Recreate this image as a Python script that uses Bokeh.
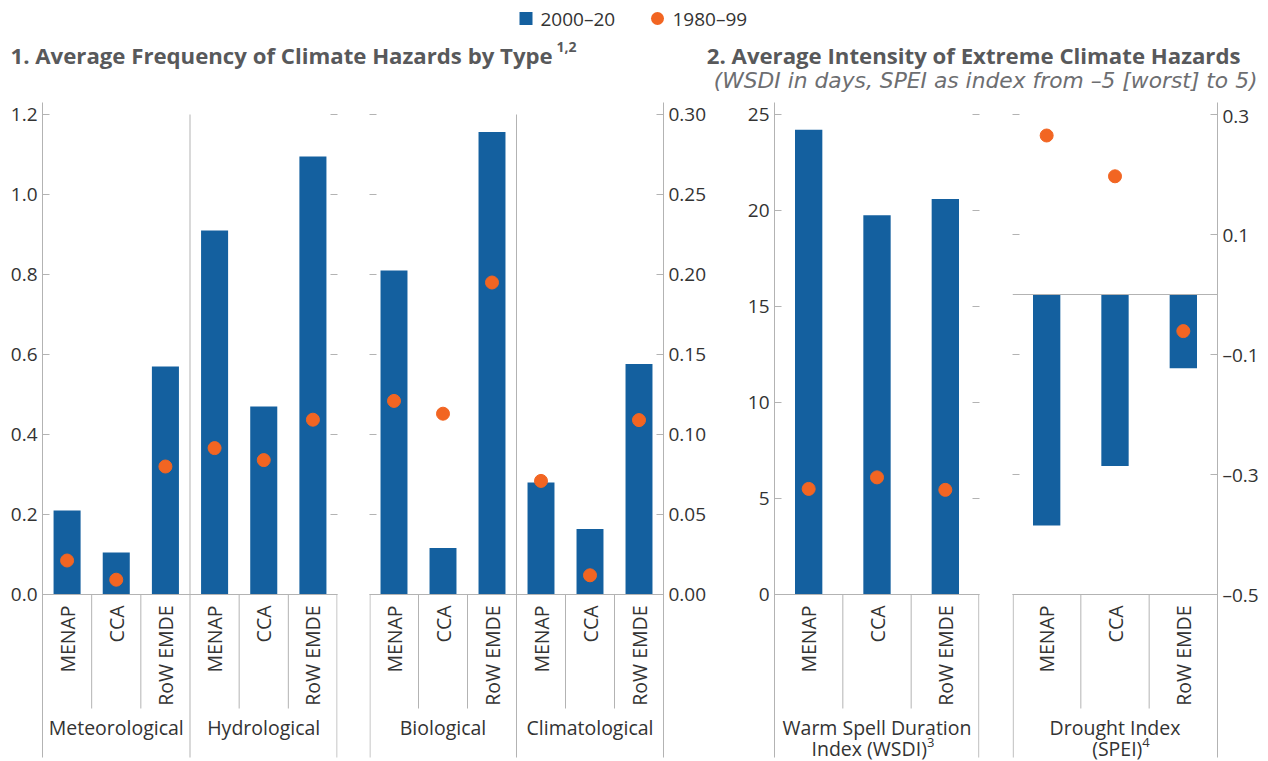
import math

from bokeh.core.properties import value
from bokeh.embed import file_html
from bokeh.layouts import column, row
from bokeh.models import FactorRange, FixedTicker, LinearAxis, Range1d, Span
from bokeh.plotting import figure
from bokeh.resources import INLINE

# ---------------- data ----------------
regions = ["MENAP", "CCA", "RoW EMDE"]
series_labels = ["2000–20", "1980–99"]

# 1. average frequency of climate hazards (left scale)
freq_groups_a = ["Meteorological", "Hydrological"]
freq_a_2000_20 = [0.21, 0.105, 0.57, 0.91, 0.47, 1.095]
freq_a_1980_99 = [0.085, 0.037, 0.32, 0.366, 0.336, 0.437]
freq_a_ticks = [0.0, 0.2, 0.4, 0.6, 0.8, 1.0, 1.2]
freq_a_tick_labels = ["0.0", "0.2", "0.4", "0.6", "0.8", "1.0", "1.2"]

# 1. average frequency of climate hazards (right scale)
freq_groups_b = ["Biological", "Climatological"]
freq_b_2000_20 = [0.2025, 0.029, 0.289, 0.070, 0.041, 0.144]
freq_b_1980_99 = [0.121, 0.113, 0.195, 0.071, 0.012, 0.109]
freq_b_ticks = [0.0, 0.05, 0.10, 0.15, 0.20, 0.25, 0.30]
freq_b_tick_labels = ["0.00", "0.05", "0.10", "0.15", "0.20", "0.25", "0.30"]

# 2. warm spell duration index (days)
wsdi_group = "WSDI"
wsdi_label_lines = ["Warm Spell Duration", "Index (WSDI)"]
wsdi_note = "3"
wsdi_2000_20 = [24.2, 19.75, 20.6]
wsdi_1980_99 = [5.5, 6.1, 5.45]
wsdi_ticks = [0, 5, 10, 15, 20, 25]
wsdi_tick_labels = ["0", "5", "10", "15", "20", "25"]

# 2. drought index (SPEI)
spei_group = "SPEI"
spei_label_lines = ["Drought Index", "(SPEI)"]
spei_note = "4"
spei_2000_20 = [-0.385, -0.286, -0.123]
spei_1980_99 = [0.265, 0.197, -0.061]
spei_ticks = [-0.5, -0.3, -0.1, 0.1, 0.3]
spei_tick_labels = ["–0.5", "–0.3", "–0.1", "0.1", "0.3"]

title_1 = "1. Average Frequency of Climate Hazards by Type"
title_1_note = "1,2"
title_2 = "2. Average Intensity of Extreme Climate Hazards"
subtitle_2 = "(WSDI in days, SPEI as index from –5 [worst] to 5)"

# ---------------- style ----------------
FONT = "Open Sans"
SUB_FONT = "DejaVu Sans"
BLUE = "#14609F"
ORANGE = "#F26522"
LINE = "#B3B3B3"
TEXT = "#333333"
TITLE = "#58595B"
SUBTITLE = "#6D6E71"
LABEL_SIZE = "19px"
CAT_SIZE = "19.5px"

# vertical layout (pixels inside each panel frame)
FRAME_H = 659
TOP_PX = 12          # gap above the highest tick
PLOT_PX = 480        # lowest tick -> highest tick
BELOW_PX = 167       # room under the baseline for category labels
SUB_SEP_PX = 114     # length of separators between regions
EDGE_PX = 163        # length of group borders under the baseline
SUB_LABEL_PX = 11    # gap between baseline and rotated region names
GROUP_LINE_PX = [133, 154]   # centres of the group-name lines
NOTE_PX = 148                # centre of the footnote markers


def make_panel(groups, lo, hi, frame_w, border_l, border_r):
    factors = [(g, r) for g in groups for r in regions]
    ppu = PLOT_PX / (hi - lo)
    p = figure(
        x_range=FactorRange(factors=factors, factor_padding=0, subgroup_padding=0,
                            group_padding=0, range_padding=0),
        y_range=Range1d(lo - BELOW_PX / ppu, hi + TOP_PX / ppu),
        frame_width=frame_w, frame_height=FRAME_H,
        min_border_left=border_l, min_border_right=border_r,
        min_border_top=0, min_border_bottom=0,
        x_axis_location=None, y_axis_location=None,
        toolbar_location=None, output_backend="svg",
        outline_line_color=None, background_fill_color="white",
        border_fill_color="white",
    )
    p.xgrid.visible = False
    p.ygrid.visible = False
    return p, factors, ppu


def add_axis(p, side, ticks, labels, lo, ppu, show_labels, show_line):
    ax = LinearAxis(
        ticker=FixedTicker(ticks=ticks),
        major_tick_in=7, major_tick_out=0,
        major_tick_line_color=LINE, minor_tick_line_color=None,
        axis_line_color=LINE if show_line else None,
        major_label_text_font=FONT,
    )
    if show_labels:
        ax.major_label_overrides = dict(zip(ticks, labels))
        ax.major_label_text_color = TEXT
        ax.major_label_text_font_size = LABEL_SIZE
        ax.major_label_standoff = 5
    else:
        ax.major_label_text_color = None
        ax.major_label_text_font_size = "0px"
        ax.major_label_standoff = 0
    if show_line:
        ax.bounds = (lo - EDGE_PX / ppu, p.y_range.end)
    p.add_layout(ax, side)


def draw_series(p, factors, new, old, width):
    p.vbar(x=factors, top=new, bottom=0, width=width, fill_color=BLUE, line_color=None)
    p.scatter(x=factors, y=old, size=13, marker="circle",
              fill_color=ORANGE, line_color=ORANGE)


def draw_categories(p, groups, ppu, base, hi, left_edge, right_edge, named=True):
    # region separators below the baseline
    xs = [(g, r, -0.5) for g in groups for r in regions[1:]]
    p.segment(x0=xs, x1=xs, y0=[base] * len(xs), y1=[base - SUB_SEP_PX / ppu] * len(xs),
              line_color=LINE, line_width=1)
    # borders between groups run the full height
    inner = [(g, regions[0], -0.5) for g in groups[1:]]
    if inner:
        p.segment(x0=inner, x1=inner, y0=[hi] * len(inner),
                  y1=[base - EDGE_PX / ppu] * len(inner), line_color=LINE, line_width=1)
    outer = []
    if left_edge:
        outer.append((groups[0], regions[0], -0.49))
    if right_edge:
        outer.append((groups[-1], regions[-1], 0.49))
    if outer:
        p.segment(x0=outer, x1=outer, y0=[base] * len(outer),
                  y1=[base - EDGE_PX / ppu] * len(outer), line_color=LINE, line_width=1)
    p.add_layout(Span(location=base, dimension="width", line_color=LINE, line_width=1))

    # rotated region names
    names = [(g, r) for g in groups for r in regions]
    p.text(x=names, y=[base - SUB_LABEL_PX / ppu] * len(names),
           text=[r for g in groups for r in regions], angle=math.pi / 2,
           text_align="right", text_baseline="middle",
           text_font=value(FONT), text_font_size=CAT_SIZE, text_color=TEXT)
    # group names
    if named:
        p.text(x=[(g, regions[1]) for g in groups],
               y=[base - GROUP_LINE_PX[0] / ppu] * len(groups), text=groups,
               text_align="center", text_baseline="middle",
               text_font=value(FONT), text_font_size=CAT_SIZE, text_color=TEXT)


def draw_two_line_label(p, group, lines, note, ppu, base, note_offset):
    p.text(x=[(group, regions[1])], y=[base - GROUP_LINE_PX[0] / ppu], text=[lines[0]],
           text_align="center", text_baseline="middle",
           text_font=value(FONT), text_font_size=CAT_SIZE, text_color=TEXT)
    anchor = (group, regions[1], note_offset)
    p.text(x=[anchor], y=[base - GROUP_LINE_PX[1] / ppu], text=[lines[1]],
           text_align="right", text_baseline="middle",
           text_font=value(FONT), text_font_size=CAT_SIZE, text_color=TEXT)
    p.text(x=[anchor], y=[base - NOTE_PX / ppu], text=[note],
           text_align="left", text_baseline="middle",
           text_font=value(FONT), text_font_size="13px", text_color=TEXT)


# ---------------- panel 1, left scale ----------------
p1a, f1a, ppu1a = make_panel(freq_groups_a, 0.0, 1.2, 295, 42, 16)
add_axis(p1a, "left", freq_a_ticks, freq_a_tick_labels, 0.0, ppu1a, True, True)
add_axis(p1a, "right", freq_a_ticks, freq_a_tick_labels, 0.0, ppu1a, False, False)
draw_categories(p1a, freq_groups_a, ppu1a, 0.0, 1.2, False, True)
draw_series(p1a, f1a, freq_a_2000_20, freq_a_1980_99, 0.55)

# ---------------- panel 1, right scale ----------------
p1b, f1b, ppu1b = make_panel(freq_groups_b, 0.0, 0.30, 294, 16, 67)
add_axis(p1b, "left", freq_b_ticks, freq_b_tick_labels, 0.0, ppu1b, False, False)
add_axis(p1b, "right", freq_b_ticks, freq_b_tick_labels, 0.0, ppu1b, True, True)
draw_categories(p1b, freq_groups_b, ppu1b, 0.0, 0.30, True, False)
draw_series(p1b, f1b, freq_b_2000_20, freq_b_1980_99, 0.55)

# ---------------- panel 2, WSDI ----------------
p2a, f2a, ppu2a = make_panel([wsdi_group], 0, 25, 205, 44, 16)
add_axis(p2a, "left", wsdi_ticks, wsdi_tick_labels, 0, ppu2a, True, True)
add_axis(p2a, "right", wsdi_ticks, wsdi_tick_labels, 0, ppu2a, False, False)
draw_categories(p2a, [wsdi_group], ppu2a, 0, 25, False, True, named=False)
draw_two_line_label(p2a, wsdi_group, wsdi_label_lines, wsdi_note, ppu2a, 0, 0.73)
draw_series(p2a, f2a, wsdi_2000_20, wsdi_1980_99, 0.40)

# ---------------- panel 2, SPEI ----------------
p2b, f2b, ppu2b = make_panel([spei_group], -0.5, 0.3, 205, 17, 51)
add_axis(p2b, "left", spei_ticks, spei_tick_labels, -0.5, ppu2b, False, False)
add_axis(p2b, "right", spei_ticks, spei_tick_labels, -0.5, ppu2b, True, True)
draw_categories(p2b, [spei_group], ppu2b, -0.5, 0.3, True, False, named=False)
p2b.add_layout(Span(location=0, dimension="width", line_color=LINE, line_width=1))
draw_two_line_label(p2b, spei_group, spei_label_lines, spei_note, ppu2b, -0.5, 0.40)
draw_series(p2b, f2b, spei_2000_20, spei_1980_99, 0.40)

# ---------------- header: legend and titles ----------------
hdr = figure(
    frame_width=1268, frame_height=102, x_range=Range1d(0, 1268), y_range=Range1d(102, 0),
    min_border=0, x_axis_location=None, y_axis_location=None,
    toolbar_location=None, output_backend="svg", outline_line_color=None,
)
hdr.xgrid.visible = False
hdr.ygrid.visible = False

hdr.scatter(x=[525.5], y=[18], marker="square", size=13, fill_color=BLUE, line_color=None)
hdr.scatter(x=[657], y=[18], marker="circle", size=13, fill_color=ORANGE, line_color=None)
hdr.text(x=[540, 672], y=[18, 18], text=series_labels, text_baseline="middle",
         text_font=value(FONT), text_font_size=LABEL_SIZE, text_color=TEXT)

hdr.text(x=[10], y=[54.5], text=[title_1], text_font=value(FONT), text_font_size="22.2px",
         text_font_style="bold", text_color=TITLE, text_baseline="middle")
hdr.text(x=[556], y=[46], text=[title_1_note], text_font=value(FONT), text_font_size="14px",
         text_font_style="bold", text_color=TITLE, text_baseline="middle")
hdr.text(x=[1240], y=[55], text=[title_2], text_font=value(FONT), text_font_size="22.2px",
         text_font_style="bold", text_color=TITLE, text_align="right",
         text_baseline="middle")
hdr.text(x=[1257], y=[80], text=[subtitle_2], text_font=value(SUB_FONT), text_font_size="21.8px",
         text_font_style="italic", text_color=SUBTITLE, text_align="right",
         text_baseline="middle")

layout = column(hdr, row(p1a, p1b, p2a, p2b, spacing=0), spacing=0)

with open("out.html", "w") as fh:
    fh.write(file_html(layout, INLINE, title="Climate hazards"))
